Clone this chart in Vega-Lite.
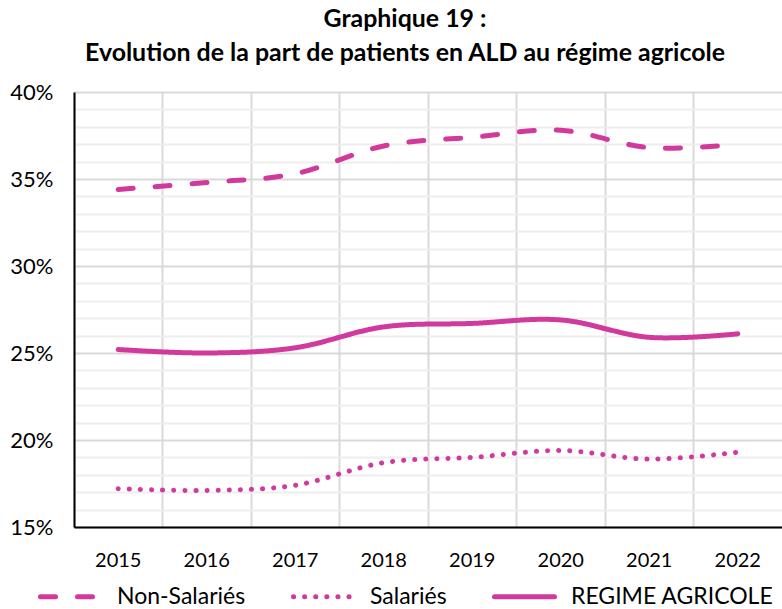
{
  "$schema": "https://vega.github.io/schema/vega-lite/v6.json",
  "width": 708,
  "height": 435,
  "autosize": {"type": "none"},
  "padding": {"left": 74, "top": 92, "right": 0, "bottom": 82},
  "background": "white",
  "config": {"view": {"stroke": null}},
  "title": {
    "text": ["Graphique 19 :", "Evolution de la part de patients en ALD au régime agricole"],
    "font": "Lato",
    "fontSize": 24.9,
    "fontWeight": "bold",
    "color": "#000000",
    "anchor": "middle",
    "dx": -23,
    "lineHeight": 34,
    "offset": 15
  },
  "data": {
    "values": [
      {"annee": "2015", "serie": "Non-Salariés", "valeur": 0.344},
      {"annee": "2016", "serie": "Non-Salariés", "valeur": 0.348},
      {"annee": "2017", "serie": "Non-Salariés", "valeur": 0.353},
      {"annee": "2018", "serie": "Non-Salariés", "valeur": 0.369},
      {"annee": "2019", "serie": "Non-Salariés", "valeur": 0.374},
      {"annee": "2020", "serie": "Non-Salariés", "valeur": 0.378},
      {"annee": "2021", "serie": "Non-Salariés", "valeur": 0.368},
      {"annee": "2022", "serie": "Non-Salariés", "valeur": 0.370},
      {"annee": "2015", "serie": "Salariés", "valeur": 0.172},
      {"annee": "2016", "serie": "Salariés", "valeur": 0.171},
      {"annee": "2017", "serie": "Salariés", "valeur": 0.174},
      {"annee": "2018", "serie": "Salariés", "valeur": 0.187},
      {"annee": "2019", "serie": "Salariés", "valeur": 0.190},
      {"annee": "2020", "serie": "Salariés", "valeur": 0.194},
      {"annee": "2021", "serie": "Salariés", "valeur": 0.189},
      {"annee": "2022", "serie": "Salariés", "valeur": 0.193},
      {"annee": "2015", "serie": "REGIME AGRICOLE", "valeur": 0.252},
      {"annee": "2016", "serie": "REGIME AGRICOLE", "valeur": 0.250},
      {"annee": "2017", "serie": "REGIME AGRICOLE", "valeur": 0.253},
      {"annee": "2018", "serie": "REGIME AGRICOLE", "valeur": 0.265},
      {"annee": "2019", "serie": "REGIME AGRICOLE", "valeur": 0.267},
      {"annee": "2020", "serie": "REGIME AGRICOLE", "valeur": 0.269},
      {"annee": "2021", "serie": "REGIME AGRICOLE", "valeur": 0.259},
      {"annee": "2022", "serie": "REGIME AGRICOLE", "valeur": 0.261}
    ]
  },
  "layer": [
    {
      "mark": {"type": "rule", "opacity": 0},
      "encoding": {
        "x": {
          "field": "annee",
          "type": "ordinal",
          "scale": {"type": "band", "paddingInner": 0, "paddingOuter": 0},
          "axis": {
            "orient": "top",
            "bandPosition": 0,
            "grid": true,
            "gridColor": "#d9d9d9",
            "gridWidth": 2,
            "labels": false,
            "ticks": false,
            "domain": false,
            "title": null
          }
        }
      }
    },
    {
      "mark": {
        "type": "line",
        "color": "#D1399C",
        "strokeWidth": 5,
        "strokeCap": "round",
        "interpolate": "cardinal"
      },
      "encoding": {
        "x": {
          "field": "annee",
          "type": "ordinal",
          "bandPosition": 0.5,
          "scale": {"type": "band", "paddingInner": 0, "paddingOuter": 0},
          "axis": {
            "orient": "bottom",
            "grid": false,
            "ticks": false,
            "domain": true,
            "domainColor": "#000000",
            "domainWidth": 2,
            "labelAngle": 0,
            "labelFont": "Lato",
            "labelFontSize": 20,
            "labelColor": "#000000",
            "labelPadding": 23,
            "title": null
          }
        },
        "y": {
          "field": "valeur",
          "type": "quantitative",
          "scale": {"domain": [0.15, 0.40], "nice": false, "zero": false},
          "axis": {
            "values": [0.15, 0.16, 0.17, 0.18, 0.19, 0.20, 0.21, 0.22, 0.23, 0.24, 0.25, 0.26, 0.27, 0.28, 0.29, 0.30, 0.31, 0.32, 0.33, 0.34, 0.35, 0.36, 0.37, 0.38, 0.39, 0.40],
            "format": ".0%",
            "labelExpr": "round(datum.value*100) % 5 == 0 ? datum.label : ''",
            "grid": true,
            "gridColor": {"condition": {"test": "round(datum.value*100) % 5 == 0", "value": "#d9d9d9"}, "value": "#eeeeee"},
            "gridWidth": 2,
            "ticks": false,
            "domain": true,
            "domainColor": "#000000",
            "domainWidth": 2,
            "labelFont": "Lato",
            "labelFontSize": 22,
            "labelColor": "#000000",
            "labelPadding": 21,
            "labelOverlap": false,
            "title": null
          }
        },
        "strokeDash": {
          "field": "serie",
          "type": "nominal",
          "scale": {
            "domain": ["Non-Salariés", "Salariés", "REGIME AGRICOLE"],
            "range": [[15, 22], [0.1, 11], [1, 0]]
          },
          "legend": {
            "title": null,
            "orient": "none",
            "legendX": -36,
            "legendY": 472,
            "direction": "horizontal",
            "symbolType": "stroke",
            "symbolSize": 3600,
            "symbolStrokeWidth": 5,
            "symbolStrokeColor": "#D1399C",
            "labelFont": "Lato",
            "labelFontSize": 23,
            "labelColor": "#000000",
            "labelLimit": 400,
            "labelOffset": 14,
            "columnPadding": 37,
            "encoding": {"symbols": {"strokeCap": {"value": "round"}}}
          }
        }
      }
    }
  ],
  "resolve": {"axis": {"x": "independent"}}
}
